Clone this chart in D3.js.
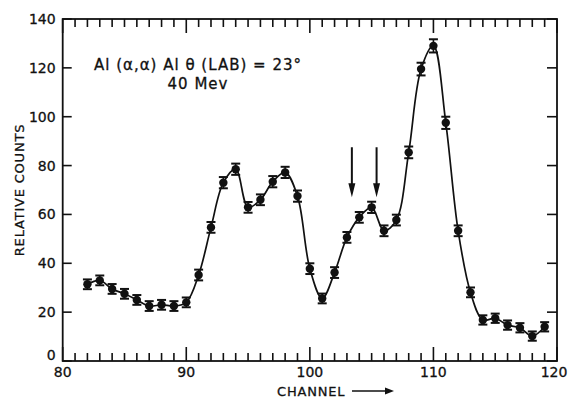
<!DOCTYPE html>
<html>
<head>
<meta charset="utf-8">
<script src="https://cdn.jsdelivr.net/npm/d3@7"></script>
<style>
  body { margin: 0; background: #fff; }
  svg { font-family: "DejaVu Sans", "Liberation Sans", sans-serif; }
  svg text { fill: #111; stroke: #111; stroke-width: 0.3; }
  .tick-label { font-size: 14px; }
</style>
</head>
<body>
<div id="chart"></div>
<script>
// data
const channels = [82, 83, 84, 85, 86, 87, 88, 89, 90, 91, 92, 93, 94, 95, 96, 97, 98, 99, 100,
  101, 102, 103, 104, 105, 106, 107, 108, 109, 110, 111, 112, 113, 114, 115, 116, 117, 118, 119];
const counts = [31.4, 33, 29.5, 27.5, 25, 22.5, 23, 22.5, 24, 35.2, 54.7, 73, 78.5, 62.9, 66, 73.4, 77.2, 67.5, 37.8,
  25.6, 36.2, 50.6, 58.8, 62.9, 53.3, 57.7, 85.4, 119.5, 129, 97.5, 53.3, 28.1, 16.8, 17.5, 14.7, 13.6, 10.2, 14];
const errors = [2, 2, 2, 2, 2, 2, 2, 2, 2, 2.2, 2.2, 2.3, 2.3, 2.2, 2.2, 2.3, 2.3, 2.3, 2.2,
  2, 2.2, 2.2, 2.2, 2.3, 2.2, 2.2, 2.4, 2.6, 2.7, 2.5, 2.2, 2, 1.9, 1.9, 1.9, 1.9, 1.9, 1.9];
const arrowChannels = [103.4, 105.4];
const arrowRange = [87.5, 67];
const xTicks = [80, 90, 100, 110, 120];
const yTicks = [0, 20, 40, 60, 80, 100, 120, 140];

const width = 568, height = 400;
const mLeft = 62.7, mRight = 557, mTop = 19, mBottom = 361;

const svg = d3.select('#chart').append("svg")
    .attr("width", width)
    .attr("height", height);

const x = d3.scaleLinear().domain([80, 120]).range([mLeft, mRight]);
const y = d3.scaleLinear().domain([0, 140]).range([mBottom, mTop]);

// frame
svg.append("rect")
    .attr("x", mLeft).attr("y", mTop)
    .attr("width", mRight - mLeft).attr("height", mBottom - mTop)
    .attr("fill", "none").attr("stroke", "#111").attr("stroke-width", 1.8);

// inward ticks on x (bottom + top)
const minor = d3.range(80, 121);
minor.forEach(c => {
  const len = (c % 10 === 0) ? 14 : 8;
  const cx = x(c);
  svg.append("line").attr("x1", cx).attr("x2", cx).attr("y1", mBottom).attr("y2", mBottom - len)
      .attr("stroke", "#111").attr("stroke-width", 1.6);
  svg.append("line").attr("x1", cx).attr("x2", cx).attr("y1", mTop).attr("y2", mTop + len)
      .attr("stroke", "#111").attr("stroke-width", 1.6);
});
yTicks.forEach(v => {
  svg.append("line").attr("x1", mLeft).attr("x2", mLeft + 9).attr("y1", y(v)).attr("y2", y(v))
      .attr("stroke", "#111").attr("stroke-width", 1.6);
  svg.append("line").attr("x1", mRight).attr("x2", mRight - 10).attr("y1", y(v)).attr("y2", y(v))
      .attr("stroke", "#111").attr("stroke-width", 1.6);
});

// tick labels (last one kept inside the page)
svg.selectAll(".xlab").data(xTicks).enter().append("text")
    .attr("class", "tick-label")
    .attr("x", d => Math.min(x(d), width - 14)).attr("y", mBottom + 16)
    .attr("text-anchor", "middle")
    .text(d => d);
svg.selectAll(".ylab").data(yTicks).enter().append("text")
    .attr("class", "tick-label")
    .attr("x", mLeft - 7).attr("y", d => d === 0 ? y(d) - 1 : y(d) + 5)
    .attr("text-anchor", "end")
    .text(d => d);

// axis titles
svg.append("text")
    .attr("transform", "translate(24," + ((mTop + mBottom) / 2) + ") rotate(-90)")
    .attr("text-anchor", "middle")
    .attr("font-size", 13).attr("letter-spacing", 0.8)
    .text("RELATIVE COUNTS");
svg.append("text")
    .attr("x", 277).attr("y", 396)
    .attr("font-size", 13).attr("letter-spacing", 0.8)
    .text("CHANNEL");
svg.append("line").attr("x1", 352).attr("x2", 388).attr("y1", 391).attr("y2", 391)
    .attr("stroke", "#111").attr("stroke-width", 1.5);
svg.append("path").attr("d", "M385,387.5 L394,391 L385,394.5 Z").attr("fill", "#111");

// annotation
svg.append("text")
    .attr("x", 198).attr("y", 70)
    .attr("text-anchor", "middle").attr("font-size", 15).attr("letter-spacing", 1)
    .text("Al (α,α) Al θ (LAB) = 23°");
svg.append("text")
    .attr("x", 198).attr("y", 89)
    .attr("text-anchor", "middle").attr("font-size", 15).attr("letter-spacing", 1)
    .text("40 Mev");

// smooth curve through the points
const pts = channels.map((c, i) => [c, counts[i]]);
const line = d3.line()
    .x(d => x(d[0])).y(d => y(d[1]))
    .curve(d3.curveCatmullRom.alpha(0.5));
svg.append("path")
    .datum(pts)
    .attr("d", line)
    .attr("fill", "none").attr("stroke", "#111").attr("stroke-width", 1.7);

// error bars + markers
const g = svg.append("g").selectAll("g").data(pts).enter().append("g");
g.append("line")
    .attr("x1", d => x(d[0])).attr("x2", d => x(d[0]))
    .attr("y1", (d, i) => y(d[1] - errors[i])).attr("y2", (d, i) => y(d[1] + errors[i]))
    .attr("stroke", "#111").attr("stroke-width", 1.6);
[-1, 1].forEach(s => {
  g.append("line")
      .attr("x1", d => x(d[0]) - 4.5).attr("x2", d => x(d[0]) + 4.5)
      .attr("y1", (d, i) => y(d[1] + s * errors[i])).attr("y2", (d, i) => y(d[1] + s * errors[i]))
      .attr("stroke", "#111").attr("stroke-width", 2);
});
g.append("circle")
    .attr("cx", d => x(d[0])).attr("cy", d => y(d[1]))
    .attr("r", 4.2).attr("fill", "#111");

// arrows
arrowChannels.forEach(c => {
  svg.append("line")
      .attr("x1", x(c)).attr("x2", x(c))
      .attr("y1", y(arrowRange[0])).attr("y2", y(arrowRange[1]) - 10)
      .attr("stroke", "#111").attr("stroke-width", 2);
  svg.append("path")
      .attr("d", "M" + (x(c) - 3.5) + "," + (y(arrowRange[1]) - 14) +
           " L" + x(c) + "," + y(arrowRange[1]) +
           " L" + (x(c) + 3.5) + "," + (y(arrowRange[1]) - 14) + " Z")
      .attr("fill", "#111");
});
</script>
</body>
</html>
